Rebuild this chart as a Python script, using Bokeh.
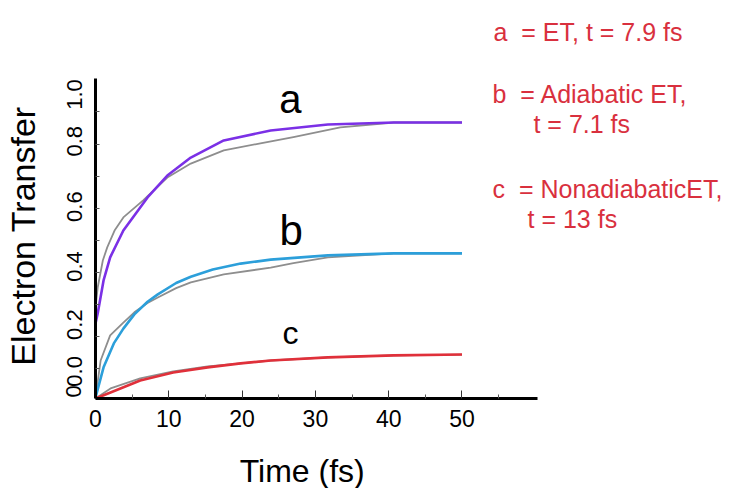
import math
from bokeh.plotting import figure
from bokeh.models import Range1d, FixedTicker, Label
from bokeh.embed import file_html
from bokeh.resources import INLINE

# ---- data ----
t_a_fit = [0, 0.3, 1.1, 2.0, 3.8, 5.5, 7.1, 9.8, 13, 17.5, 23.9, 31.7, 40.7, 50]
y_a_fit = [0.186, 0.221, 0.337, 0.418, 0.512, 0.572, 0.628, 0.705, 0.768, 0.828, 0.863, 0.884, 0.891, 0.891]
t_a_sim = [0, 0.3, 1.0, 1.6, 2.6, 3.8, 6.5, 9.8, 13, 17.5, 22.5, 27, 33.4, 40.7, 50]
y_a_sim = [0.242, 0.312, 0.407, 0.453, 0.512, 0.558, 0.618, 0.698, 0.747, 0.793, 0.818, 0.840, 0.874, 0.891, 0.891]

t_b_fit = [0, 1.1, 2.5, 3.8, 5.3, 7.1, 8.5, 11, 13, 16, 19.8, 23.9, 31.7, 40.7, 50]
y_b_fit = [-0.074, 0.032, 0.116, 0.168, 0.218, 0.262, 0.288, 0.328, 0.350, 0.375, 0.396, 0.410, 0.425, 0.432, 0.432]
t_b_sim = [0, 0.7, 2.0, 3.8, 5.3, 7.1, 8.5, 11, 13, 17.5, 23.9, 27, 31.7, 40.7, 50]
y_b_sim = [-0.074, 0.056, 0.144, 0.189, 0.225, 0.258, 0.277, 0.310, 0.330, 0.358, 0.382, 0.398, 0.418, 0.432, 0.432]

t_c_fit = [0, 2.05, 6.1, 10.6, 15.3, 19.8, 23.9, 31.7, 40.7, 50]
y_c_fit = [-0.077, -0.056, -0.014, 0.014, 0.032, 0.046, 0.056, 0.067, 0.074, 0.077]
t_c_sim = [0, 2.05, 6.1, 10.6, 15.3, 19.8, 23.9, 31.7, 40.7, 50]
y_c_sim = [-0.077, -0.042, -0.007, 0.018, 0.035, 0.046, 0.056, 0.067, 0.074, 0.077]

x_ticks = [0, 10, 20, 30, 40, 50]
# the scanned y labels sit slightly off an even spacing; placed where the picture shows them
y_label_pos = [0.018, 0.182, 0.386, 0.596, 0.825, 0.989]
y_tick_labels = ["0.0", "0.2", "0.4", "0.6", "0.8", "1.0"]

legend_lines = ["a \u00a0= ET, t = 7.9 fs", "b \u00a0= Adiabatic ET,", "t = 7.1 fs",
                "c \u00a0= NonadiabaticET,", "t = 13 fs"]

FONT = "Liberation Sans"
RED = "#d9303e"

# frame covers the whole canvas; axes are pinned inside it
p = figure(width=733, height=488, output_backend="svg", toolbar_location=None,
           x_range=Range1d(-12.96, 87.04), y_range=Range1d(-0.393, 1.319),
           min_border=0)
p.outline_line_color = None
p.grid.visible = False
p.background_fill_color = "white"
p.border_fill_color = "white"

# x axis
xa = p.xaxis[0]
xa.fixed_location = -0.077
xa.bounds = (0, 60.3)
xa.ticker = FixedTicker(ticks=x_ticks, minor_ticks=[5, 15, 25, 35, 45, 55])
xa.axis_line_width = 3
xa.axis_line_color = "black"
xa.major_tick_in = 8
xa.major_tick_out = 0
xa.minor_tick_in = 4
xa.minor_tick_out = 0
xa.major_tick_line_color = "#333333"
xa.minor_tick_line_color = "#555555"
xa.major_label_text_font = FONT
xa.major_label_text_font_size = "23px"
xa.major_label_text_color = "black"
xa.major_label_standoff = 12

# y axis
ya = p.yaxis[0]
ya.fixed_location = 0
ya.bounds = (-0.077, 1.046)
ya.ticker = FixedTicker(ticks=y_label_pos,
                        minor_ticks=[0.028, 0.14, 0.253, 0.365, 0.477, 0.589, 0.702, 0.814, 0.928])
ya.major_label_overrides = {v: s for v, s in zip(y_label_pos, y_tick_labels)}
ya.axis_line_width = 3
ya.axis_line_color = "black"
ya.major_tick_in = 0
ya.major_tick_out = 0
ya.minor_tick_in = 4
ya.minor_tick_out = 0
ya.minor_tick_line_color = "#555555"
ya.major_label_orientation = "vertical"
ya.major_label_text_font = FONT
ya.major_label_text_font_size = "22px"
ya.major_label_text_color = "black"
ya.major_label_standoff = 13

# curves: gray (simulation) below, coloured fits on top
for tx, ty in [(t_a_sim, y_a_sim), (t_b_sim, y_b_sim), (t_c_sim, y_c_sim)]:
    p.line(tx, ty, line_color="#8e8e8e", line_width=1.8, line_join="round")
p.line(t_a_fit, y_a_fit, line_color="#7b30e6", line_width=2.6, line_join="round")
p.line(t_b_fit, y_b_fit, line_color="#2c9fda", line_width=2.6, line_join="round")
p.line(t_c_fit, y_c_fit, line_color="#e0303a", line_width=2.6, line_join="round")

# curve letters
for txt, x, y, fs in [("a", 26.6, 0.972, "40px"), ("b", 26.7, 0.512, "42px"), ("c", 26.6, 0.152, "32px")]:
    p.add_layout(Label(x=x, y=y, text=txt, text_font=FONT, text_font_size=fs,
                       text_color="black", text_align="center", text_baseline="alphabetic"))

# axis titles
p.add_layout(Label(x=28.2, y=-0.33, text="Time (fs)", text_font=FONT, text_font_size="32px",
                   text_color="black", text_align="center", text_baseline="alphabetic"))
p.add_layout(Label(x=-9.85, y=0.493, text="Electron Transfer", angle=math.pi / 2,
                   text_font=FONT, text_font_size="34px", text_color="black",
                   text_align="center", text_baseline="middle"))
# clipped fragment of a tick label at the bottom of the y axis
p.add_layout(Label(x=-3.0, y=-0.052, text="0", angle=math.pi / 2,
                   text_font=FONT, text_font_size="22px", text_color="black",
                   text_align="center", text_baseline="middle"))

# red legend text
pos = [(54.3, 1.209), (54.16, 0.991), (59.75, 0.886), (54.16, 0.658), (58.94, 0.553)]
for txt, (x, y) in zip(legend_lines, pos):
    p.add_layout(Label(x=x, y=y, text=txt, text_font=FONT, text_font_size="25px",
                       text_color=RED, text_align="left", text_baseline="alphabetic"))

open("out.html", "w").write(file_html(p, INLINE))
